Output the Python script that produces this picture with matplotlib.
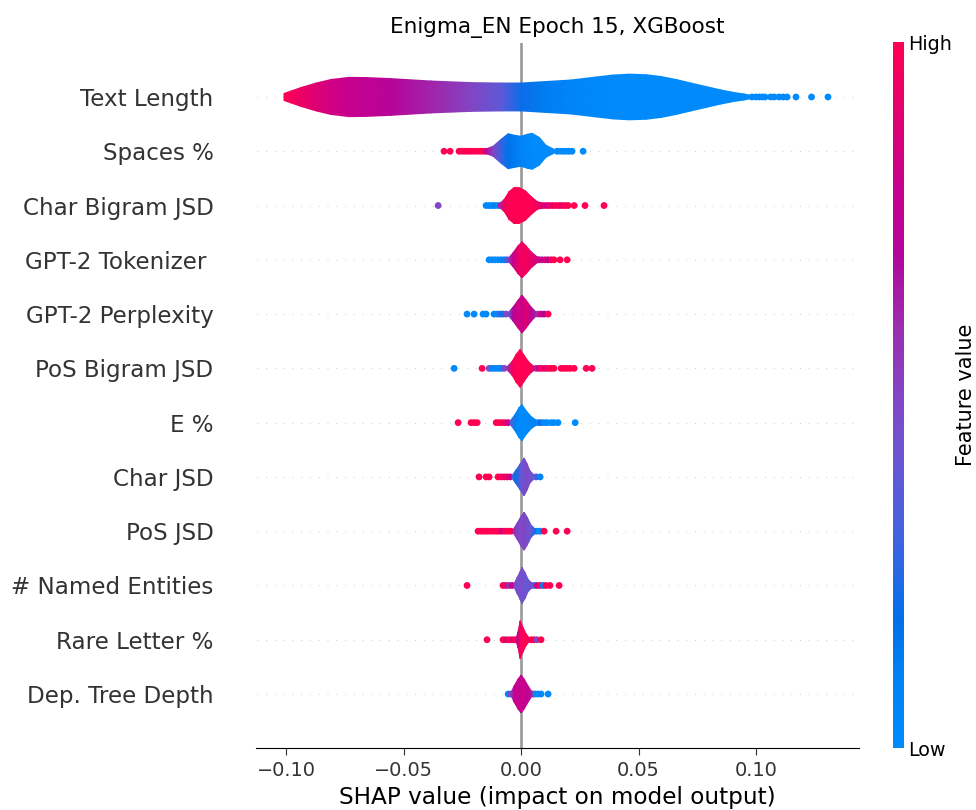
import numpy as np
import matplotlib
matplotlib.use("Agg")
import matplotlib.pyplot as plt
from matplotlib.colors import LinearSegmentedColormap, Normalize
from matplotlib.cm import ScalarMappable

# ---------------- data (SHAP values, violin half-widths in row units, feature-value colour 0..1) --------------
features = ["Text Length", "Spaces %", "Char Bigram JSD", "GPT-2 Tokenizer ", "GPT-2 Perplexity",
            "PoS Bigram JSD", "E %", "Char JSD", "PoS JSD", "# Named Entities", "Rare Letter %",
            "Dep. Tree Depth"]

# Text Length
tl_x = [-0.1009, -0.0979, -0.0936, -0.0872, -0.0809, -0.0732, -0.0660, -0.0553, -0.0383, -0.0213,
        -0.0085, 0.0, 0.0106, 0.0213, 0.0319, 0.0391, 0.0460, 0.0532, 0.0596, 0.0660, 0.0723,
        0.0787, 0.0851, 0.0906, 0.0949, 0.0979]
tl_w = [0.064, 0.110, 0.175, 0.257, 0.322, 0.362, 0.358, 0.338, 0.294, 0.265, 0.257, 0.257, 0.285,
        0.313, 0.368, 0.404, 0.421, 0.410, 0.377, 0.322, 0.257, 0.193, 0.129, 0.083, 0.055, 0.030]
tl_c = [1.0, 0.97, 0.93, 0.88, 0.83, 0.8, 0.76, 0.72, 0.62, 0.5, 0.38, 0.2, 0.12, 0.06, 0.02, 0.0,
        0.0, 0.0, 0.0, 0.0, 0.0, 0.0, 0.0, 0.0, 0.0, 0.0]
tl_dx = [0.0983, 0.1000, 0.1013, 0.1026, 0.1038, 0.1062, 0.1077, 0.1098, 0.1115, 0.1132, 0.1170,
         0.1236, 0.1306]
tl_dc = [0.0] * 13

# Spaces %
sp_x = [-0.0153, -0.0119, -0.0085, -0.0055, -0.0026, 0.0, 0.0026, 0.0047, 0.0077, 0.0106, 0.0140]
sp_w = [0.037, 0.092, 0.221, 0.322, 0.294, 0.276, 0.313, 0.331, 0.257, 0.110, 0.037]
sp_c = [0.75, 0.5, 0.28, 0.17, 0.13, 0.08, 0.03, 0.0, 0.0, 0.0, 0.0]
sp_dx = [-0.0328, -0.0302, -0.0264, -0.0251, -0.0238, -0.0226, -0.0213, -0.0200, -0.0187, -0.0174,
         -0.0162, -0.0149, 0.0153, 0.0166, 0.0179, 0.0191, 0.0204, 0.0217, 0.0264]
sp_dc = [1.0] * 11 + [0.9] + [0.0] * 7

# Char Bigram JSD
cb_x = [-0.0094, -0.0072, -0.0051, -0.0030, -0.0009, 0.0017, 0.0043, 0.0068, 0.0094]
cb_w = [0.028, 0.110, 0.257, 0.331, 0.331, 0.276, 0.165, 0.074, 0.040]
cb_c = [0.6, 0.95, 1.0, 1.0, 1.0, 1.0, 1.0, 0.95, 0.88]
cb_dx = [-0.0353, -0.0149, -0.0136, -0.0123, -0.0111, -0.0098, -0.0085, 0.0085, 0.0098, 0.0111,
         0.0123, 0.0136, 0.0149, 0.0162, 0.0174, 0.0187, 0.0200, 0.0226, 0.0272, 0.0353]
cb_dc = [0.5, 0.0, 0.05, 0.0, 0.1, 0.0, 0.9, 0.85, 1.0, 0.8, 1.0, 0.9, 1.0, 1.0, 0.9, 1.0, 1.0, 1.0,
         1.0, 1.0]

# GPT-2 Tokenizer
gt_x = [-0.0055, -0.0034, -0.0013, 0.0004, 0.0021, 0.0043, 0.0068, 0.0089]
gt_w = [0.028, 0.129, 0.257, 0.331, 0.257, 0.147, 0.055, 0.028]
gt_c = [0.55, 0.8, 0.92, 0.95, 0.97, 0.9, 0.85, 0.8]
gt_dx = [-0.0136, -0.0123, -0.0111, -0.0098, -0.0085, -0.0072, -0.0060, 0.0077, 0.0089, 0.0102,
         0.0115, 0.0128, 0.0140, 0.0166, 0.0196]
gt_dc = [0.0, 0.0, 0.0, 0.0, 0.05, 0.1, 0.3, 0.8, 0.6, 0.9, 0.7, 0.95, 1.0, 1.0, 1.0]

# GPT-2 Perplexity
gp_x = [-0.0055, -0.0034, -0.0013, 0.0004, 0.0021, 0.0043, 0.0064]
gp_w = [0.028, 0.129, 0.257, 0.349, 0.257, 0.129, 0.037]
gp_c = [0.4, 0.7, 0.85, 0.8, 0.9, 0.75, 0.6]
gp_dx = [-0.0230, -0.0200, -0.0162, -0.0149, -0.0115, -0.0102, -0.0089, -0.0077, -0.0064, 0.0072,
         0.0085, 0.0098, 0.0115]
gp_dc = [0.0, 0.0, 0.0, 0.0, 0.1, 0.0, 0.3, 0.15, 0.5, 0.6, 0.85, 0.7, 1.0]

# PoS Bigram JSD
pb_x = [-0.0060, -0.0038, -0.0021, -0.0004, 0.0013, 0.0034, 0.0055]
pb_w = [0.028, 0.129, 0.257, 0.349, 0.239, 0.110, 0.037]
pb_c = [0.6, 0.95, 1.0, 1.0, 1.0, 1.0, 0.9]
pb_dx = [-0.0285, -0.0166, -0.0136, -0.0123, -0.0111, -0.0098, -0.0085, -0.0072, 0.0064, 0.0077,
         0.0089, 0.0102, 0.0115, 0.0128, 0.0140, 0.0170, 0.0183, 0.0196, 0.0209, 0.0226, 0.0277,
         0.0302]
pb_dc = [0.0, 1.0, 0.45, 0.05, 0.05, 0.05, 0.05, 0.5, 0.6, 0.85, 1.0, 0.9, 1.0, 1.0, 1.0, 1.0, 1.0,
         1.0, 1.0, 1.0, 1.0, 1.0]

# E %
ep_x = [-0.0047, -0.0026, -0.0009, 0.0004, 0.0021, 0.0043, 0.0064]
ep_w = [0.028, 0.147, 0.276, 0.331, 0.221, 0.110, 0.046]
ep_c = [0.4, 0.1, 0.0, 0.0, 0.0, 0.05, 0.1]
ep_dx = [-0.0268, -0.0213, -0.0200, -0.0187, -0.0106, -0.0094, -0.0081, -0.0068, -0.0055, 0.0072,
         0.0085, 0.0098, 0.0111, 0.0128, 0.0140, 0.0157, 0.0230]
ep_dc = [1.0, 1.0, 1.0, 1.0, 1.0, 1.0, 1.0, 0.95, 0.8, 0.05, 0.2, 0.0, 0.0, 0.0, 0.0, 0.0, 0.0]

# Char JSD
cj_x = [-0.0038, -0.0021, -0.0004, 0.0013, 0.0026, 0.0038, 0.0055]
cj_w = [0.028, 0.129, 0.239, 0.349, 0.239, 0.110, 0.037]
cj_c = [0.3, 0.2, 0.38, 0.45, 0.47, 0.45, 0.4]
cj_dx = [-0.0179, -0.0149, -0.0136, -0.0098, -0.0085, -0.0072, -0.0060, -0.0047, 0.0064, 0.0081]
cj_dc = [1.0, 1.0, 1.0, 1.0, 1.0, 0.9, 0.95, 0.8, 0.3, 0.1]

# PoS JSD
pj_x = [-0.0034, -0.0017, 0.0, 0.0013, 0.0026, 0.0043, 0.0060]
pj_w = [0.028, 0.147, 0.276, 0.349, 0.257, 0.110, 0.037]
pj_c = [0.6, 0.5, 0.47, 0.5, 0.45, 0.4, 0.2]
pj_dx = [-0.0183, -0.0170, -0.0157, -0.0145, -0.0132, -0.0119, -0.0106, -0.0094, -0.0081, -0.0068,
         -0.0055, -0.0043, 0.0055, 0.0068, 0.0081, 0.0098, 0.0149, 0.0196]
pj_dc = [1.0, 1.0, 1.0, 1.0, 1.0, 1.0, 1.0, 1.0, 0.8, 1.0, 1.0, 1.0, 0.0, 0.05, 0.0, 1.0, 1.0, 1.0]

# # Named Entities
ne_x = [-0.0030, -0.0017, -0.0004, 0.0004, 0.0017, 0.0030, 0.0047]
ne_w = [0.028, 0.147, 0.257, 0.331, 0.239, 0.110, 0.037]
ne_c = [0.5, 0.45, 0.45, 0.45, 0.42, 0.4, 0.5]
ne_dx = [-0.0230, -0.0077, -0.0064, -0.0051, -0.0038, 0.0043, 0.0055, 0.0068, 0.0081, 0.0094,
         0.0106, 0.0123, 0.0162]
ne_dc = [1.0, 1.0, 0.9, 0.6, 0.8, 1.0, 0.0, 0.8, 1.0, 0.1, 1.0, 1.0, 1.0]

# Rare Letter %
rl_x = [-0.0021, -0.0013, -0.0004, 0.0009, 0.0021, 0.0034]
rl_w = [0.028, 0.147, 0.349, 0.221, 0.110, 0.037]
rl_c = [0.75, 0.85, 0.95, 1.0, 1.0, 0.95]
rl_dx = [-0.0145, -0.0077, -0.0064, -0.0051, -0.0038, -0.0026, 0.0043, 0.0055, 0.0068, 0.0085]
rl_dc = [1.0, 1.0, 0.9, 1.0, 0.9, 1.0, 1.0, 1.0, 0.5, 1.0]

# Dep. Tree Depth
dt_x = [-0.0043, -0.0030, -0.0013, 0.0, 0.0013, 0.0030, 0.0047]
dt_w = [0.028, 0.147, 0.276, 0.349, 0.276, 0.147, 0.037]
dt_c = [0.5, 0.8, 0.8, 0.8, 0.8, 0.78, 0.6]
dt_dx = [-0.0055, -0.0043, 0.0051, 0.0060, 0.0072, 0.0085, 0.0115]
dt_dc = [0.05, 0.5, 1.0, 0.0, 0.0, 0.0, 0.0]

rows = [
    (tl_x, tl_w, tl_c, tl_dx, tl_dc),
    (sp_x, sp_w, sp_c, sp_dx, sp_dc),
    (cb_x, cb_w, cb_c, cb_dx, cb_dc),
    (gt_x, gt_w, gt_c, gt_dx, gt_dc),
    (gp_x, gp_w, gp_c, gp_dx, gp_dc),
    (pb_x, pb_w, pb_c, pb_dx, pb_dc),
    (ep_x, ep_w, ep_c, ep_dx, ep_dc),
    (cj_x, cj_w, cj_c, cj_dx, cj_dc),
    (pj_x, pj_w, pj_c, pj_dx, pj_dc),
    (ne_x, ne_w, ne_c, ne_dx, ne_dc),
    (rl_x, rl_w, rl_c, rl_dx, rl_dc),
    (dt_x, dt_w, dt_c, dt_dx, dt_dc),
]

x_ticks = [-0.10, -0.05, 0.00, 0.05, 0.10]

# ---------------- styling ----------------
cmap_pos = [0.0, 0.1, 0.18, 0.3, 0.42, 0.5, 0.6, 0.7, 0.8, 0.9, 1.0]
cmap_hex = ["#008afb", "#0082f4", "#0070e9", "#4262e0", "#6d55d2", "#8345c3", "#9c2cae",
            "#b3059c", "#c8008e", "#e2006f", "#ff0052"]
cmap = LinearSegmentedColormap.from_list("red_blue", list(zip(cmap_pos, cmap_hex)))
axis_color = "#333333"

fig = plt.figure(figsize=(9.76, 8.10), dpi=100)
ax = fig.add_axes([256.5 / 976, 61.7 / 810, 602.5 / 976, 705.6 / 810])

n = len(features)
ax.axvline(0, color="#999999", lw=1.9, zorder=-1)
for i, (kx, kw, kc, dx, dc) in enumerate(rows):
    pos = n - 1 - i
    ax.axhline(pos, color="#cccccc", lw=0.7, dashes=(1, 8), zorder=-2)
    dx = np.asarray(dx)
    ax.scatter(dx, np.full(len(dx), pos), c=cmap(np.asarray(dc)), s=24, linewidths=0, zorder=2)
    kx = np.asarray(kx)
    kw = np.asarray(kw)
    kc = np.asarray(kc)
    X = np.vstack([kx, kx])
    Y = np.vstack([pos - kw, pos + kw])
    C = np.vstack([kc, kc])
    ax.pcolormesh(X, Y, C, cmap=cmap, vmin=0, vmax=1, shading="gouraud", zorder=3,
                  antialiased=True)

ax.set_ylim(-1, n)
ax.set_xlim(-0.1126, 0.1438)
ax.set_yticks(range(n))
ax.set_yticklabels(features[::-1], fontsize=16.6)
ax.set_xticks(x_ticks)
ax.set_xticklabels([f"{t:.2f}".replace("-", "\u2212") for t in x_ticks])
ax.tick_params(axis="y", length=0, pad=31)
ax.tick_params(axis="x", labelsize=13.9, length=5, pad=4.4)
ax.tick_params(color=axis_color, labelcolor=axis_color)
for s in ["top", "right", "left"]:
    ax.spines[s].set_visible(False)
ax.set_xlabel("SHAP value (impact on model output)", fontsize=16.7)
ax.set_title("Enigma_EN Epoch 15, XGBoost", fontsize=15.5, pad=7)

cax = fig.add_axes([893 / 976, 62 / 810, 11 / 976, 706 / 810])
sm = ScalarMappable(cmap=cmap, norm=Normalize(0, 1))
cbar = fig.colorbar(sm, cax=cax, ticks=[0, 1])
cbar.set_ticklabels(["Low", "High"])
cbar.ax.tick_params(labelsize=13.75, length=0, pad=3)
cbar.outline.set_visible(False)
cbar.set_label("Feature value", size=15, labelpad=3)

fig.savefig("out.png", dpi=100)
